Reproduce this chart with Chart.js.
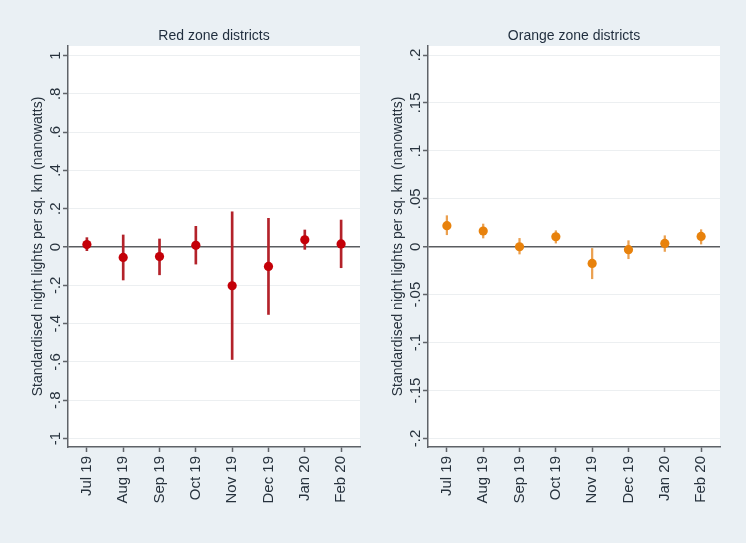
<!DOCTYPE html>
<html>
<head>
<meta charset="utf-8">
<script src="https://cdn.jsdelivr.net/npm/chart.js@4"></script>
<style>
  html, body { margin: 0; padding: 0; }
  body { width: 748px; height: 544px; background: #ffffff; position: relative; overflow: hidden; }
  #frame { position: absolute; left: 0; top: 0; width: 746px; height: 543px; background: #eaf0f4; }
  canvas { position: absolute; top: 0; }
  #redChart { left: 0; }
  #orangeChart { left: 374px; }
</style>
</head>
<body>
<div id="frame"></div>
<canvas id="redChart" width="374" height="544"></canvas>
<canvas id="orangeChart" width="374" height="544"></canvas>
<script>
const months = ['Jul 19', 'Aug 19', 'Sep 19', 'Oct 19', 'Nov 19', 'Dec 19', 'Jan 20', 'Feb 20'];

// Red zone coefficients with confidence bounds
const redCoef = [0.013, -0.054, -0.050, 0.009, -0.202, -0.101, 0.038, 0.016];
const redLow = [-0.019, -0.172, -0.145, -0.089, -0.587, -0.352, -0.012, -0.108];
const redHigh = [0.049, 0.063, 0.042, 0.108, 0.184, 0.150, 0.089, 0.141];
const redTickValues = [-1, -0.8, -0.6, -0.4, -0.2, 0, 0.2, 0.4, 0.6, 0.8, 1];
const redTickLabels = ['-1', '-.8', '-.6', '-.4', '-.2', '0', '.2', '.4', '.6', '.8', '1'];

// Orange zone coefficients with confidence bounds
const orangeCoef = [0.022, 0.0164, 0.0, 0.0104, -0.0174, -0.0031, 0.0035, 0.0108];
const orangeLow = [0.0125, 0.0091, -0.0076, 0.0038, -0.0334, -0.0125, -0.0049, 0.0028];
const orangeHigh = [0.0324, 0.0237, 0.0087, 0.0167, -0.0018, 0.0063, 0.0115, 0.0178];
const orangeTickValues = [-0.2, -0.15, -0.1, -0.05, 0, 0.05, 0.1, 0.15, 0.2];
const orangeTickLabels = ['-.2', '-.15', '-.1', '-.05', '0', '.05', '.1', '.15', '.2'];

const yTitle = 'Standardised night lights per sq. km (nanowatts)';
const textColor = '#27323d';
const axisColor = '#5f6368';
const fontFamily = '"Liberation Sans", Arial, sans-serif';

// white plot area + rotated y tick labels and axis title (Stata style)
const stataPlugin = {
    id: 'stata',
    beforeDraw(chart) {
        const a = chart.chartArea;
        const ctx = chart.ctx;
        ctx.save();
        ctx.fillStyle = '#ffffff';
        ctx.fillRect(a.left, a.top, a.right - a.left, a.bottom - a.top);
        ctx.restore();
    },
    afterDraw(chart, args, opts) {
        const y = chart.scales.y;
        const a = chart.chartArea;
        const ctx = chart.ctx;
        ctx.save();
        ctx.fillStyle = textColor;
        ctx.textAlign = 'center';
        ctx.textBaseline = 'middle';
        ctx.font = '15px ' + fontFamily;
        opts.values.forEach((v, i) => {
            const py = y.getPixelForValue(v);
            ctx.save();
            ctx.translate(y.right - 12, py);
            ctx.rotate(-Math.PI / 2);
            ctx.fillText(opts.labels[i], 0, 0);
            ctx.restore();
        });
        ctx.font = '14px ' + fontFamily;
        ctx.translate(y.right - 30, (a.top + a.bottom) / 2);
        ctx.rotate(-Math.PI / 2);
        ctx.fillText(yTitle, 0, 0);
        ctx.restore();
    }
};

function makeChart(id, opts) {
    const tickValues = opts.tickValues;
    return new Chart(document.getElementById(id), {
        type: 'bar',
        data: {
            datasets: [
                {
                    type: 'line',
                    order: 0,
                    data: opts.coef.map((c, i) => ({ x: i, y: c })),
                    showLine: false,
                    pointRadius: 4.6,
                    pointBorderWidth: 0,
                    pointBackgroundColor: opts.dotColor,
                    pointBorderColor: opts.dotColor
                },
                {
                    type: 'bar',
                    order: 1,
                    data: opts.low.map((l, i) => ({ x: i, y: [l, opts.high[i]] })),
                    backgroundColor: opts.barColor,
                    borderWidth: 0,
                    barThickness: opts.barWidth
                }
            ]
        },
        options: {
            responsive: false,
            animation: false,
            devicePixelRatio: 1,
            layout: { padding: { left: 0, right: opts.padRight, top: 0, bottom: 0 } },
            plugins: {
                legend: { display: false },
                tooltip: { enabled: false },
                title: {
                    display: true,
                    text: opts.title,
                    fullSize: false,
                    color: '#1f2d3d',
                    font: { family: fontFamily, size: 14, weight: 'normal', lineHeight: 1.2 },
                    padding: { top: 27.6, bottom: 1.6 }
                },
                stata: { values: tickValues, labels: opts.tickLabels }
            },
            scales: {
                x: {
                    type: 'linear',
                    min: -0.52,
                    max: 7.52,
                    offset: false,
                    afterBuildTicks: s => { s.ticks = months.map((m, i) => ({ value: i })); },
                    afterFit: s => { s.height = 97; },
                    ticks: {
                        callback: v => months[v],
                        autoSkip: false,
                        minRotation: 90,
                        maxRotation: 90,
                        padding: 4,
                        color: textColor,
                        font: { family: fontFamily, size: 15 }
                    },
                    grid: {
                        offset: false,
                        drawOnChartArea: false,
                        drawTicks: true,
                        tickLength: 5,
                        tickColor: axisColor,
                        tickWidth: 1.5
                    },
                    border: { color: axisColor, width: 1.5 }
                },
                y: {
                    min: opts.yMin,
                    max: opts.yMax,
                    afterBuildTicks: s => { s.ticks = tickValues.map(v => ({ value: v })); },
                    afterFit: s => { s.width = opts.yWidth; },
                    ticks: { display: false },
                    grid: {
                        color: c => (c.tick && Math.abs(c.tick.value) < 1e-9) ? '#5a5d60' : '#eceff1',
                        lineWidth: c => (c.tick && Math.abs(c.tick.value) < 1e-9) ? 1.5 : 1,
                        drawTicks: true,
                        tickLength: 5,
                        tickColor: axisColor,
                        tickWidth: 1.5
                    },
                    border: { color: axisColor, width: 1.5 }
                }
            }
        },
        plugins: [stataPlugin]
    });
}

makeChart('redChart', {
    title: 'Red zone districts',
    coef: redCoef, low: redLow, high: redHigh,
    tickValues: redTickValues, tickLabels: redTickLabels,
    yMin: -1.044, yMax: 1.0496,
    yWidth: 68, padRight: 14,
    dotColor: '#c40008', barColor: '#b3222a', barWidth: 2
});

makeChart('orangeChart', {
    title: 'Orange zone districts',
    coef: orangeCoef, low: orangeLow, high: orangeHigh,
    tickValues: orangeTickValues, tickLabels: orangeTickLabels,
    yMin: -0.2089, yMax: 0.2094,
    yWidth: 54, padRight: 28,
    dotColor: '#e8820c', barColor: '#eba050', barWidth: 1.6
});
</script>
</body>
</html>
